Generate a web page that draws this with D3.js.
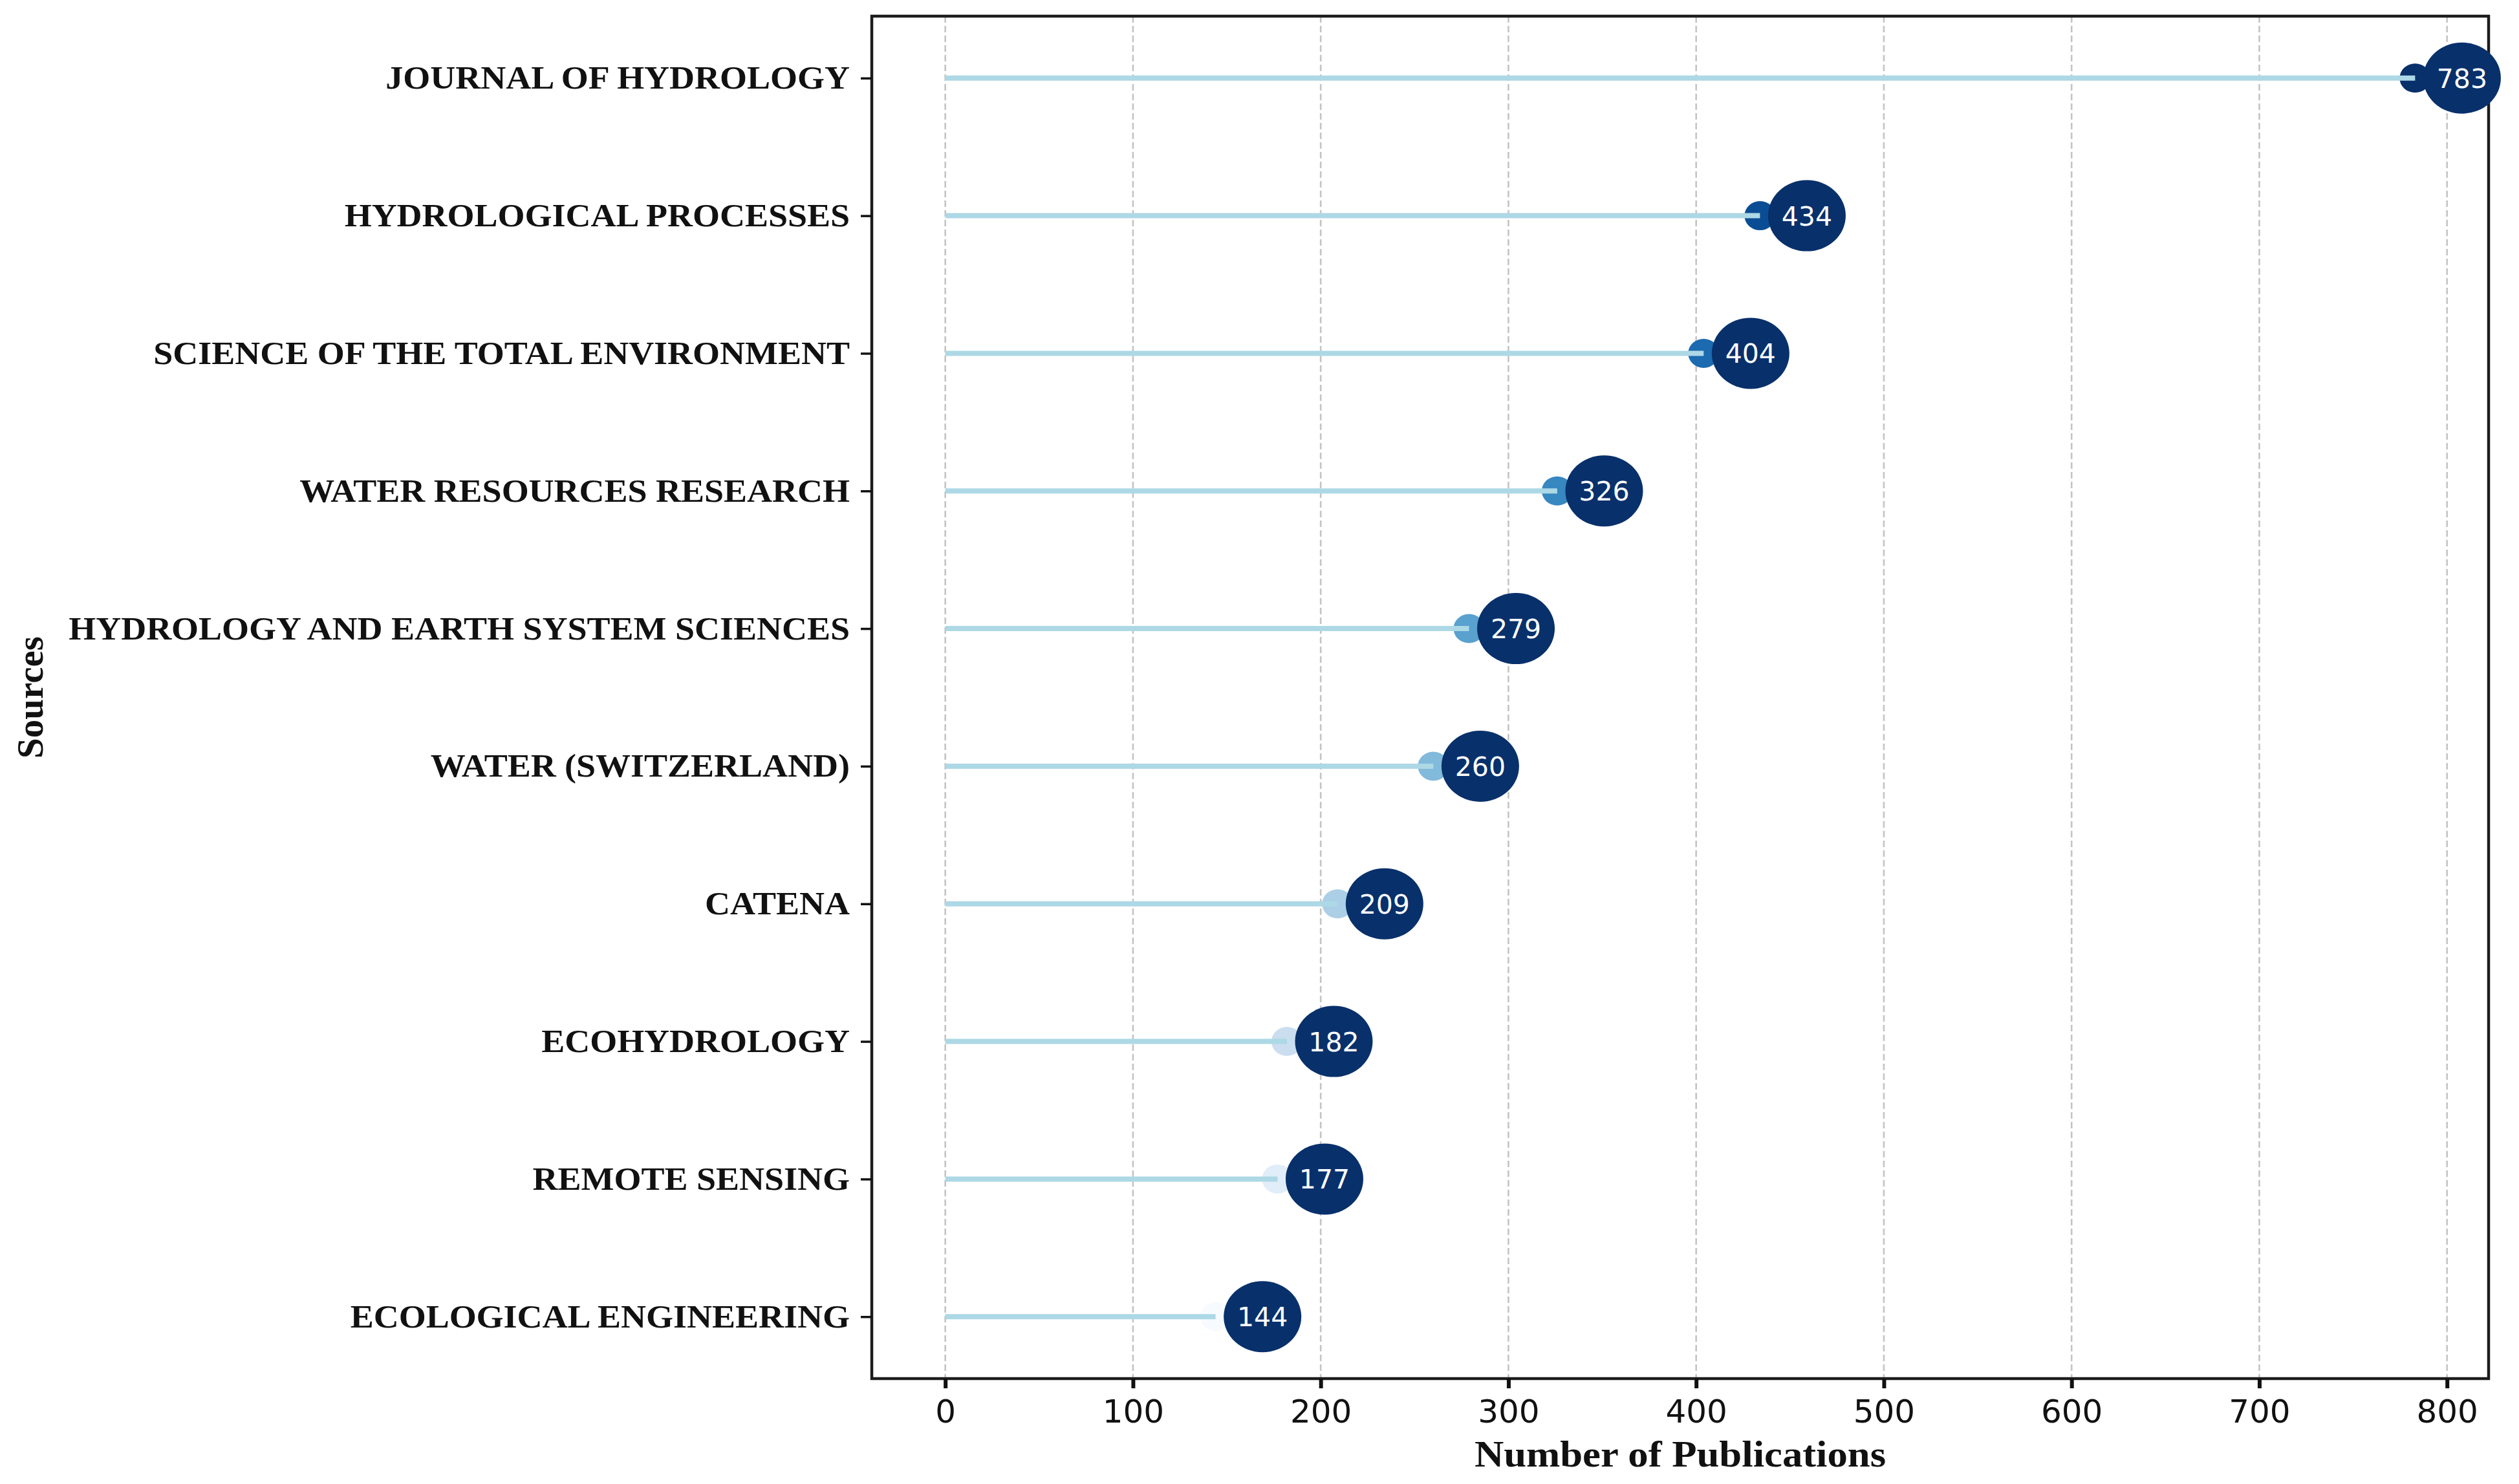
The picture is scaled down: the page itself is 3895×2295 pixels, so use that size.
<!DOCTYPE html>
<html>
<head>
<meta charset="utf-8">
<script src="https://cdn.jsdelivr.net/npm/d3@7"></script>
<style>
  html, body { margin: 0; padding: 0; background: #ffffff; }
  svg { display: block; }
</style>
</head>
<body>
<script>
// ---------------- data ----------------
const sources = [
  "JOURNAL OF HYDROLOGY",
  "HYDROLOGICAL PROCESSES",
  "SCIENCE OF THE TOTAL ENVIRONMENT",
  "WATER RESOURCES RESEARCH",
  "HYDROLOGY AND EARTH SYSTEM SCIENCES",
  "WATER (SWITZERLAND)",
  "CATENA",
  "ECOHYDROLOGY",
  "REMOTE SENSING",
  "ECOLOGICAL ENGINEERING"
];
const publications = [783, 434, 404, 326, 279, 260, 209, 182, 177, 144];
const xTicks = [0, 100, 200, 300, 400, 500, 600, 700, 800];
const xTitle = "Number of Publications";
const yTitle = "Sources";
const labelOffset = 25; // data units: label bubble sits right of the value

// ---------------- layout ----------------
const W = 3895, H = 2295;
const plot = { left: 1348, right: 3848, top: 25, bottom: 2132 };

const svg = d3.select("body").append("svg")
  .attr("width", W).attr("height", H)
  .attr("viewBox", `0 0 ${W} ${H}`);

const maxV = d3.max(publications);
const pad = 0.05 * maxV;
const x = d3.scaleLinear().domain([-pad, maxV + pad]).range([plot.left, plot.right]);
const y = d3.scalePoint().domain(sources).range([plot.top, plot.bottom]).padding(0.45);

const rows = sources.map((s, i) => ({ source: s, value: publications[i], rank: i }));
const color = d3.scaleLinear().domain([0, sources.length - 1]).range([1, 0]);

// grid
svg.append("g").selectAll("line").data(xTicks).join("line")
  .attr("x1", d => x(d)).attr("x2", d => x(d))
  .attr("y1", plot.top).attr("y2", plot.bottom)
  .attr("stroke", "#c4c4c4").attr("stroke-width", 2.6)
  .attr("stroke-dasharray", "10,5");

// spines (box)
svg.append("rect")
  .attr("x", plot.left).attr("y", plot.top)
  .attr("width", plot.right - plot.left).attr("height", plot.bottom - plot.top)
  .attr("fill", "none").attr("stroke", "#1c1c1c").attr("stroke-width", 4.5);

// x axis
const xAxis = svg.append("g")
  .attr("transform", `translate(0,${plot.bottom})`)
  .call(d3.axisBottom(x).tickValues(xTicks).tickSize(15).tickPadding(8).tickFormat(d3.format("d")));
xAxis.select(".domain").remove();
xAxis.selectAll(".tick line").attr("stroke", "#111").attr("stroke-width", 6);
xAxis.selectAll(".tick text")
  .attr("font-family", "'DejaVu Sans', sans-serif")
  .attr("font-size", 50).attr("fill", "#111")
  .attr("dy", null).attr("y", 68)
  .attr("dominant-baseline", "auto");

// y axis
const yAxis = svg.append("g")
  .attr("transform", `translate(${plot.left},0)`)
  .call(d3.axisLeft(y).tickSize(17).tickFormat(""));
yAxis.select(".domain").remove();
yAxis.selectAll(".tick line").attr("stroke", "#111").attr("stroke-width", 3.5);

// y tick labels (horizontally stretched as in reference)
const yl = svg.append("g").selectAll("g").data(sources).join("g")
  .attr("transform", d => `translate(${plot.left - 34},${y(d) + 16.5}) scale(1.08,1)`);
yl.append("text")
  .attr("text-anchor", "end")
  .attr("font-family", "'Liberation Serif', 'Times New Roman', serif")
  .attr("font-weight", "bold")
  .attr("font-size", 50)
  .attr("fill", "#111")
  .text(d => d);

// small value dots
svg.append("g").selectAll("ellipse").data(rows).join("ellipse")
  .attr("cx", d => x(d.value)).attr("cy", d => y(d.source))
  .attr("rx", 24).attr("ry", 22.5)
  .attr("fill", d => d3.interpolateBlues(color(d.rank)));

// stems
svg.append("g").selectAll("line").data(rows).join("line")
  .attr("x1", x(0)).attr("x2", d => x(d.value))
  .attr("y1", d => y(d.source)).attr("y2", d => y(d.source))
  .attr("stroke", "#add8e6").attr("stroke-width", 8);

// label bubbles
svg.append("g").selectAll("ellipse").data(rows).join("ellipse")
  .attr("cx", d => x(d.value + labelOffset)).attr("cy", d => y(d.source))
  .attr("rx", 60).attr("ry", 55)
  .attr("fill", "#08306b");

svg.append("g").selectAll("text").data(rows).join("text")
  .attr("x", d => x(d.value + labelOffset)).attr("y", d => y(d.source) + 15)
  .attr("text-anchor", "middle")
  .attr("font-family", "'DejaVu Sans', sans-serif")
  .attr("font-size", 41)
  .attr("fill", "#ffffff")
  .text(d => d.value);

// axis titles
svg.append("g")
  .attr("transform", `translate(${(plot.left + plot.right) / 2},${2268}) scale(1.1,1)`)
  .append("text")
  .attr("text-anchor", "middle")
  .attr("font-family", "'Liberation Serif', 'Times New Roman', serif")
  .attr("font-weight", "bold").attr("font-size", 57).attr("fill", "#111")
  .text(xTitle);

svg.append("text")
  .attr("transform", `translate(66,${(plot.top + plot.bottom) / 2}) rotate(-90)`)
  .attr("text-anchor", "middle")
  .attr("font-family", "'Liberation Serif', 'Times New Roman', serif")
  .attr("font-weight", "bold").attr("font-size", 57).attr("fill", "#111")
  .text(yTitle);
</script>
</body>
</html>
